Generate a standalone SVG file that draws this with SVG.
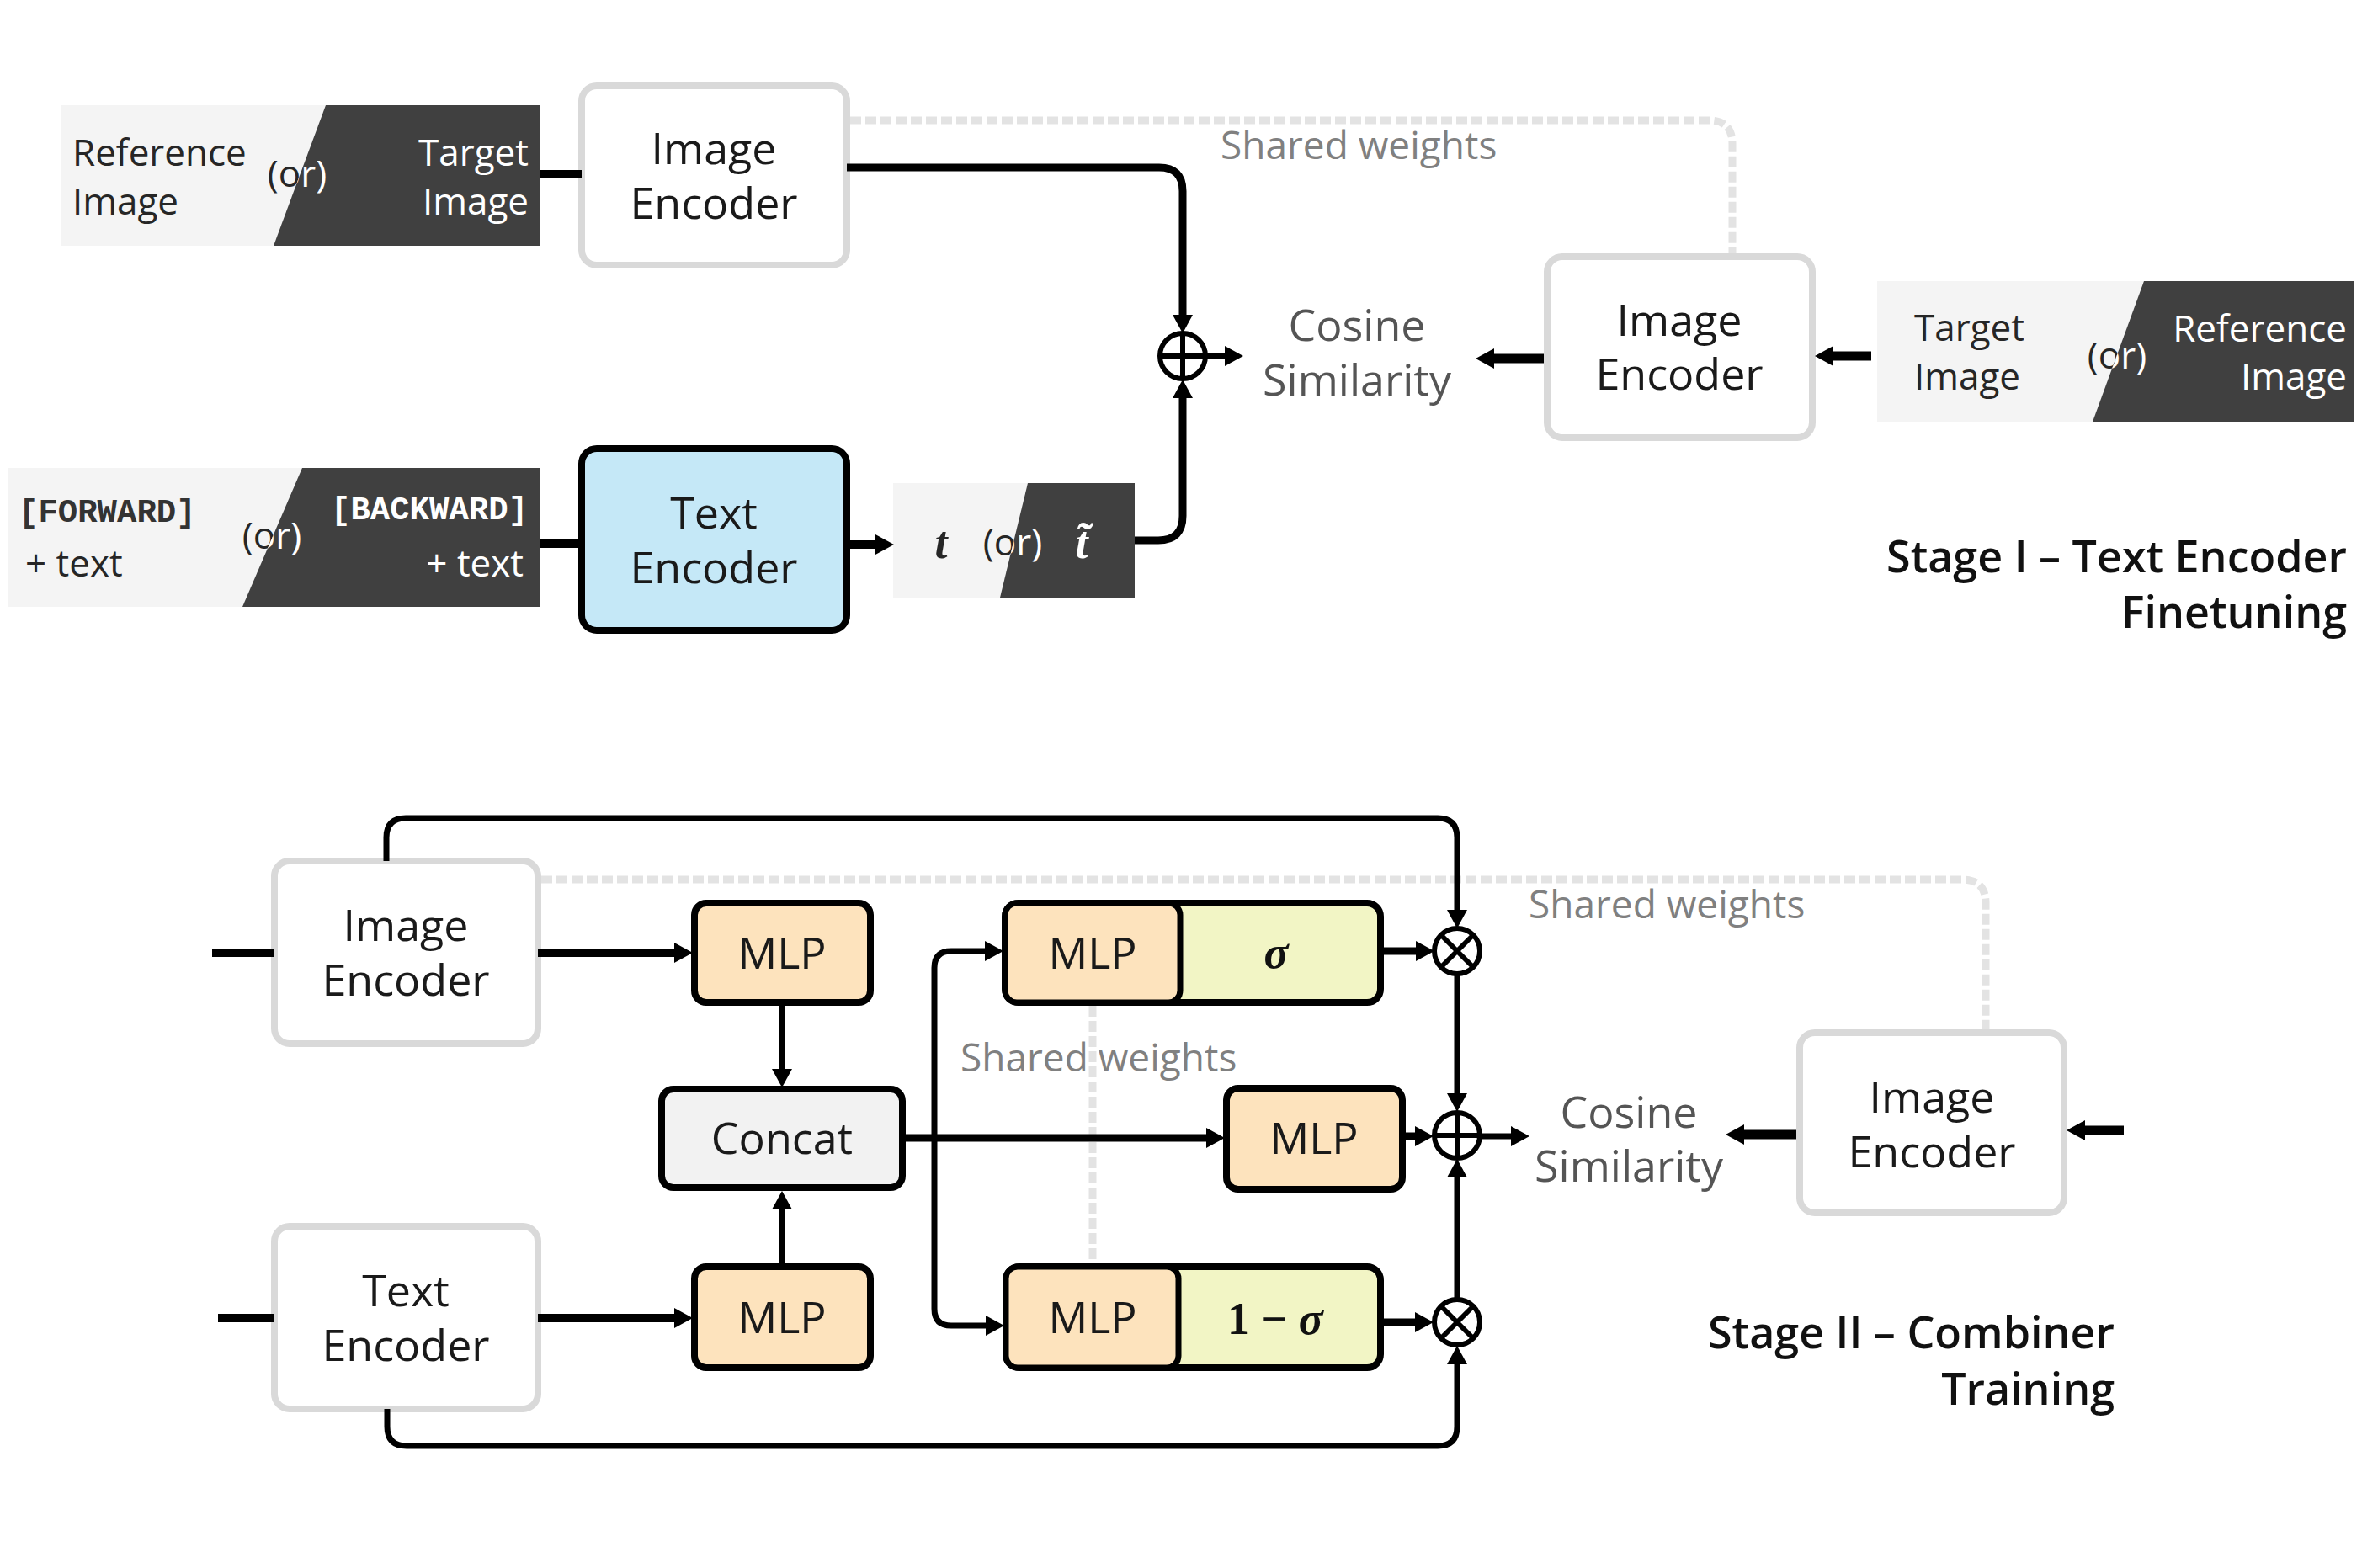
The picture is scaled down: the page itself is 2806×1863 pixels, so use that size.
<svg xmlns="http://www.w3.org/2000/svg" width="2806" height="1863" viewBox="0 0 2806 1863">
<style>
.lbl{font-family:"Open Sans","Noto Sans",sans-serif;font-size:52px;fill:#1a1a1a;text-anchor:middle}
.in{font-family:"Open Sans","Noto Sans",sans-serif;font-size:44px;fill:#262626}
.inw{font-family:"Open Sans","Noto Sans",sans-serif;font-size:44px;fill:#ffffff}
.mono{font-family:"Liberation Mono","DejaVu Sans Mono",monospace;font-size:39px;font-weight:bold}
.sw{font-family:"Open Sans","Noto Sans",sans-serif;font-size:46px;fill:#808080}
.cos{font-family:"Open Sans","Noto Sans",sans-serif;font-size:52px;fill:#555555;text-anchor:middle}
.stage{font-family:"Open Sans","Noto Sans",sans-serif;font-size:52px;font-weight:600;fill:#111;text-anchor:end}
.math{font-family:"Liberation Serif","DejaVu Serif",serif;font-style:italic;font-weight:bold;font-size:54px;text-anchor:middle}
.up{font-style:normal}
.enc{fill:#ffffff;stroke:#d9d9d9;stroke-width:8}
.blk{stroke:#000;stroke-width:8}
.mlp{fill:#fde3bd}
.ln{fill:none;stroke:#000;stroke-linecap:butt}
.dash{fill:none;stroke:#e3e3e3;stroke-width:9;stroke-dasharray:13 5}
.op{fill:#fff;stroke:#000;stroke-width:6}
.light{fill:#f4f4f4}
.dark{fill:#404040}
</style>
<defs>
<marker id="ah" markerUnits="userSpaceOnUse" viewBox="0 0 22 24" markerWidth="22" markerHeight="24" refX="0" refY="12" orient="auto"><path d="M0,0 L22,12 L0,24 z" fill="#000"/></marker>
<clipPath id="c1l"><polygon points="72,125 387,125 325,292 72,292"/></clipPath>
<clipPath id="c1d"><polygon points="387,125 641,125 641,292 325,292"/></clipPath>
<clipPath id="c2l"><polygon points="9,556 359,556 288,721 9,721"/></clipPath>
<clipPath id="c2d"><polygon points="359,556 641,556 641,721 288,721"/></clipPath>
<clipPath id="c3l"><polygon points="1061,574 1221,574 1188,710 1061,710"/></clipPath>
<clipPath id="c3d"><polygon points="1221,574 1348,574 1348,710 1188,710"/></clipPath>
<clipPath id="c4l"><polygon points="2230,334 2547,334 2486,501 2230,501"/></clipPath>
<clipPath id="c4d"><polygon points="2547,334 2797,334 2797,501 2486,501"/></clipPath>
</defs>
<rect width="2806" height="1863" fill="#ffffff"/>

<!-- shared weights dashed lines -->
<g id="shared-weights">
<path class="dash" d="M1010,143 L2030,143 Q2058,143 2058,171 L2058,303"/>
<text class="sw" x="1450" y="189">Shared weights</text>
<path class="dash" d="M643,1045 L2331,1045 Q2359,1045 2359,1073 L2359,1225"/>
<text class="sw" x="1816" y="1091">Shared weights</text>
<path class="dash" d="M1298,1195 L1298,1503"/>
<text class="sw" x="1141" y="1273">Shared weights</text>
</g>

<!-- Stage I inputs -->
<g id="input-image-top">
<rect class="light" x="72" y="125" width="569" height="167"/>
<polygon class="dark" points="387,125 641,125 641,292 325,292"/>
<text class="in" x="86" y="197">Reference</text>
<text class="in" x="86" y="255">Image</text>
<text class="inw" x="628" y="197" text-anchor="end">Target</text>
<text class="inw" x="628" y="255" text-anchor="end">Image</text>
<text class="in" x="353" y="222" text-anchor="middle" clip-path="url(#c1l)" fill="#333">(or)</text>
<text class="inw" x="353" y="222" text-anchor="middle" clip-path="url(#c1d)">(or)</text>
</g>
<g id="input-text-top">
<rect class="light" x="9" y="556" width="632" height="165"/>
<polygon class="dark" points="359,556 641,556 641,721 288,721"/>
<text class="mono" x="22" y="620" fill="#333">[FORWARD]</text>
<text class="in" x="30" y="685">+ text</text>
<text class="mono" x="393" y="617" fill="#fff">[BACKWARD]</text>
<text class="inw" x="622" y="685" text-anchor="end">+ text</text>
<text class="in" x="323" y="652" text-anchor="middle" clip-path="url(#c2l)" fill="#333">(or)</text>
<text class="inw" x="323" y="652" text-anchor="middle" clip-path="url(#c2d)">(or)</text>
</g>
<g id="image-encoder-top">
<rect class="enc" x="691" y="102" width="315" height="213" rx="18"/>
<text class="lbl" x="848" y="195">Image</text>
<text class="lbl" x="848" y="260">Encoder</text>
</g>
<g id="text-encoder-top">
<rect x="691" y="533" width="315" height="216" rx="18" fill="#c5e8f7" class="blk"/>
<text class="lbl" x="848" y="628">Text</text>
<text class="lbl" x="848" y="693">Encoder</text>
</g>
<g id="t-output">
<rect class="light" x="1061" y="574" width="287" height="136"/>
<polygon class="dark" points="1221,574 1348,574 1348,710 1188,710"/>
<text class="math" x="1118" y="663" fill="#262626">t</text>
<text class="in" x="1203" y="660" text-anchor="middle" clip-path="url(#c3l)" fill="#333">(or)</text>
<text class="inw" x="1203" y="660" text-anchor="middle" clip-path="url(#c3d)">(or)</text>
<text class="math" x="1285" y="663" fill="#ffffff">t&#x303;</text>
</g>
<g id="sum-top">
<circle class="op" cx="1405" cy="423" r="27"/>
<path d="M1405,396 V450 M1378,423 H1432" stroke="#000" stroke-width="6"/>
</g>
<g id="cosine-top">
<text class="cos" x="1612" y="405">Cosine</text>
<text class="cos" x="1612" y="470">Similarity</text>
</g>
<g id="image-encoder-right">
<rect class="enc" x="1838" y="305" width="315" height="215" rx="18"/>
<text class="lbl" x="1995" y="399">Image</text>
<text class="lbl" x="1995" y="463">Encoder</text>
</g>
<g id="input-image-right">
<rect class="light" x="2230" y="334" width="567" height="167"/>
<polygon class="dark" points="2547,334 2797,334 2797,501 2486,501"/>
<text class="in" x="2274" y="405">Target</text>
<text class="in" x="2274" y="463">Image</text>
<text class="inw" x="2788" y="406" text-anchor="end">Reference</text>
<text class="inw" x="2788" y="463" text-anchor="end">Image</text>
<text class="in" x="2515" y="438" text-anchor="middle" clip-path="url(#c4l)" fill="#333">(or)</text>
<text class="inw" x="2515" y="438" text-anchor="middle" clip-path="url(#c4d)">(or)</text>
</g>
<g id="stage1-title">
<text class="stage" x="2788" y="680">Stage I – Text Encoder</text>
<text class="stage" x="2788" y="746">Finetuning</text>
</g>

<!-- Stage II nodes -->
<g id="image-encoder-bottom">
<rect class="enc" x="326" y="1023" width="313" height="217" rx="18"/>
<text class="lbl" x="482" y="1118">Image</text>
<text class="lbl" x="482" y="1183">Encoder</text>
</g>
<g id="text-encoder-bottom">
<rect class="enc" x="326" y="1457" width="313" height="217" rx="18"/>
<text class="lbl" x="482" y="1552">Text</text>
<text class="lbl" x="482" y="1617">Encoder</text>
</g>
<g id="mlp-image">
<rect class="mlp blk" x="825" y="1073" width="209" height="118" rx="14"/>
<text class="lbl" x="929" y="1151">MLP</text>
</g>
<g id="mlp-text">
<rect class="mlp blk" x="825" y="1505" width="209" height="120" rx="14"/>
<text class="lbl" x="929" y="1584">MLP</text>
</g>
<g id="concat">
<rect class="blk" fill="#f2f2f2" x="786" y="1294" width="286" height="117" rx="14"/>
<text class="lbl" x="929" y="1371">Concat</text>
</g>
<g id="mlp-sigma">
<rect class="blk" fill="#f2f5c5" x="1194" y="1073" width="446" height="118" rx="16"/>
<rect class="mlp" stroke="#000" stroke-width="7" x="1194" y="1073" width="208" height="118" rx="14"/>
<text class="lbl" x="1298" y="1151">MLP</text>
<text class="math" x="1516" y="1150" fill="#111">σ</text>
</g>
<g id="mlp-mid">
<rect class="mlp blk" x="1457" y="1293" width="209" height="120" rx="14"/>
<text class="lbl" x="1561" y="1371">MLP</text>
</g>
<g id="mlp-one-minus-sigma">
<rect class="blk" fill="#f2f5c5" x="1195" y="1505" width="445" height="120" rx="16"/>
<rect class="mlp" stroke="#000" stroke-width="7" x="1195" y="1505" width="205" height="120" rx="14"/>
<text class="lbl" x="1298" y="1584">MLP</text>
<text class="math" x="1515" y="1585" fill="#111"><tspan class="up">1 − </tspan>σ</text>
</g>
<g id="mul-top">
<circle class="op" cx="1731" cy="1130" r="27"/>
<path d="M1712,1111 L1750,1149 M1750,1111 L1712,1149" stroke="#000" stroke-width="6"/>
</g>
<g id="sum-bottom">
<circle class="op" cx="1731" cy="1349" r="27"/>
<path d="M1731,1322 V1376 M1704,1349 H1758" stroke="#000" stroke-width="6"/>
</g>
<g id="mul-bottom">
<circle class="op" cx="1731" cy="1571" r="27"/>
<path d="M1712,1552 L1750,1590 M1750,1552 L1712,1590" stroke="#000" stroke-width="6"/>
</g>
<g id="cosine-bottom">
<text class="cos" x="1935" y="1340">Cosine</text>
<text class="cos" x="1935" y="1404">Similarity</text>
</g>
<g id="image-encoder-bottom-right">
<rect class="enc" x="2138" y="1227" width="314" height="214" rx="18"/>
<text class="lbl" x="2295" y="1322">Image</text>
<text class="lbl" x="2295" y="1387">Encoder</text>
</g>
<g id="stage2-title">
<text class="stage" x="2512" y="1602">Stage II – Combiner</text>
<text class="stage" x="2512" y="1669">Training</text>
</g>

<!-- connectors -->
<g id="connectors">
<path class="ln" stroke-width="10" d="M641,207 L691,207"/>
<path class="ln" stroke-width="10" d="M641,646 L691,646"/>
<path class="ln" stroke-width="9" d="M1006,199 L1377,199 Q1405,199 1405,227 L1405,374" marker-end="url(#ah)"/>
<path class="ln" stroke-width="10" d="M1006,647 L1040,647" marker-end="url(#ah)"/>
<path class="ln" stroke-width="9" d="M1348,642 L1376,642 Q1405,642 1405,613 L1405,473" marker-end="url(#ah)"/>
<path class="ln" stroke-width="7" d="M1432,423 L1455,423" marker-end="url(#ah)"/>
<path class="ln" stroke-width="11" d="M1834,426 L1775,426" marker-end="url(#ah)"/>
<path class="ln" stroke-width="11" d="M2223,423 L2178,423" marker-end="url(#ah)"/>

<path class="ln" stroke-width="10" d="M252,1132 L326,1132"/>
<path class="ln" stroke-width="10" d="M259,1566 L326,1566"/>
<path class="ln" stroke-width="10" d="M639,1132 L801,1132" marker-end="url(#ah)"/>
<path class="ln" stroke-width="10" d="M639,1566 L801,1566" marker-end="url(#ah)"/>
<path class="ln" stroke-width="8" d="M929,1191 L929,1270" marker-end="url(#ah)"/>
<path class="ln" stroke-width="8" d="M929,1505 L929,1437" marker-end="url(#ah)"/>
<path class="ln" stroke-width="9" d="M1072,1352 L1433,1352" marker-end="url(#ah)"/>
<path class="ln" stroke-width="7" d="M1110,1352 L1110,1150 Q1110,1130 1130,1130 L1170,1130" marker-end="url(#ah)"/>
<path class="ln" stroke-width="7" d="M1110,1352 L1110,1555 Q1110,1575 1130,1575 L1171,1575" marker-end="url(#ah)"/>
<path class="ln" stroke-width="9" d="M1642,1130 L1682,1130" marker-end="url(#ah)"/>
<path class="ln" stroke-width="9" d="M1640,1571 L1681,1571" marker-end="url(#ah)"/>
<path class="ln" stroke-width="9" d="M1666,1350 L1681,1350" marker-end="url(#ah)"/>
<path class="ln" stroke-width="7" d="M459,1023 L459,995 Q459,972 482,972 L1708,972 Q1731,972 1731,995 L1731,1081" marker-end="url(#ah)"/>
<path class="ln" stroke-width="7" d="M460,1674 L460,1695 Q460,1718 483,1718 L1708,1718 Q1731,1718 1731,1695 L1731,1621" marker-end="url(#ah)"/>
<path class="ln" stroke-width="7" d="M1731,1157 L1731,1299" marker-end="url(#ah)"/>
<path class="ln" stroke-width="7" d="M1731,1544 L1731,1399" marker-end="url(#ah)"/>
<path class="ln" stroke-width="7" d="M1758,1350 L1795,1350" marker-end="url(#ah)"/>
<path class="ln" stroke-width="11" d="M2134,1348 L2072,1348" marker-end="url(#ah)"/>
<path class="ln" stroke-width="11" d="M2523,1343 L2477,1343" marker-end="url(#ah)"/>
</g>
</svg>
